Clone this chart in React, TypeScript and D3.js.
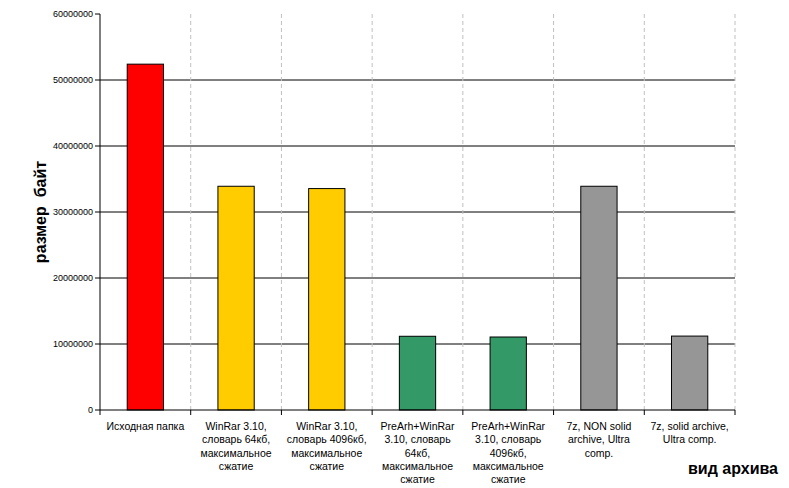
import React from "react"
import * as d3 from "d3"

// categories, each one split into the lines shown under the axis
const categories = [
  "Исходная папка",
  "WinRar 3.10, словарь 64кб",
  "WinRar 3.10, словарь 4096кб",
  "PreArh+WinRar 3.10, словарь 64кб",
  "PreArh+WinRar 3.10, словарь 4096кб",
  "7z, NON solid archive, Ultra comp.",
  "7z, solid archive, Ultra comp.",
]

const categoryLines = [
  ["Исходная папка"],
  ["WinRar 3.10,", "словарь 64кб,", "максимальное", "сжатие"],
  ["WinRar 3.10,", "словарь 4096кб,", "максимальное", "сжатие"],
  ["PreArh+WinRar", "3.10, словарь", "64кб,", "максимальное", "сжатие"],
  ["PreArh+WinRar", "3.10, словарь", "4096кб,", "максимальное", "сжатие"],
  ["7z, NON solid", "archive, Ultra", "comp."],
  ["7z, solid archive,", "Ultra comp."],
]

const sizes = [52400000, 33900000, 33550000, 11170000, 11060000, 33900000, 11200000]

const barColors = ["#ff0000", "#ffcc00", "#ffcc00", "#339966", "#339966", "#969696", "#969696"]

const yTicks = [0, 10000000, 20000000, 30000000, 40000000, 50000000, 60000000]

const yTitle = "размер  байт"
const xTitle = "вид архива"

const W = 789
const H = 488
const margin = { top: 14, right: 54, bottom: 78, left: 100 }

const App: React.FC = () => {
  const x0 = margin.left
  const x1 = W - margin.right
  const y0 = H - margin.bottom
  const y1 = margin.top

  const x = d3.scaleBand<string>().domain(categories).range([x0, x1]).padding(0)
  const y = d3.scaleLinear().domain([0, 60000000]).range([y0, y1])

  const step = x.step()
  const barW = step * 0.4
  const boundaries = categories.map((c) => x(c) as number).concat([x1])

  const font = "Arial, 'Liberation Sans', sans-serif"

  return (
    <svg width={W} height={H} style={{ position: "absolute", left: 0, top: 0, background: "#fff" }}>
      {/* gridlines */}
      {yTicks.filter((t) => t > 0 && t < 60000000).map((t) => (
        <line key={"g" + t} x1={x0} x2={x1} y1={y(t)} y2={y(t)} stroke="#000" strokeWidth={1} />
      ))}
      {/* dashed category separators */}
      {boundaries.slice(1).map((b, i) => (
        <line key={"d" + i} x1={b} x2={b} y1={y1} y2={y0} stroke="#c0c0c0" strokeWidth={1} strokeDasharray="4,3" />
      ))}
      {/* bars */}
      {categories.map((c, i) => {
        const cx = (x(c) as number) + step / 2
        return (
          <rect
            key={c}
            x={cx - barW / 2}
            y={y(sizes[i])}
            width={barW}
            height={y(0) - y(sizes[i])}
            fill={barColors[i]}
            stroke="#000"
            strokeWidth={1}
          />
        )
      })}
      {/* axes */}
      <line x1={x0} x2={x0} y1={y1} y2={y0} stroke="#000" strokeWidth={1} />
      <line x1={x0} x2={x1} y1={y0} y2={y0} stroke="#000" strokeWidth={1} />
      {yTicks.map((t) => (
        <g key={"t" + t}>
          <line x1={x0 - 5} x2={x0} y1={y(t)} y2={y(t)} stroke="#000" />
          <text x={x0 - 7} y={y(t)} dy="0.35em" textAnchor="end" fontSize={9} fontFamily={font}>
            {t}
          </text>
        </g>
      ))}
      {boundaries.map((b, i) => (
        <line key={"xt" + i} x1={b} x2={b} y1={y0} y2={y0 + 5} stroke="#000" />
      ))}
      {categories.map((c, i) => {
        const cx = (x(c) as number) + step / 2
        return (
          <text key={"l" + i} x={cx} y={y0 + 20} textAnchor="middle" fontSize={10.5} fontFamily={font}>
            {categoryLines[i].map((ln, j) => (
              <tspan key={j} x={cx} dy={j === 0 ? 0 : 13.3}>
                {ln}
              </tspan>
            ))}
          </text>
        )
      })}
      <text
        transform={`translate(46, 212) rotate(-90)`}
        textAnchor="middle"
        fontSize={16}
        fontWeight="bold"
        fontFamily={font}
        style={{ whiteSpace: "pre" }}
      >
        {yTitle}
      </text>
      <text x={733} y={474} textAnchor="middle" fontSize={16} fontWeight="bold" fontFamily={font}>
        {xTitle}
      </text>
    </svg>
  )
}

export default App
